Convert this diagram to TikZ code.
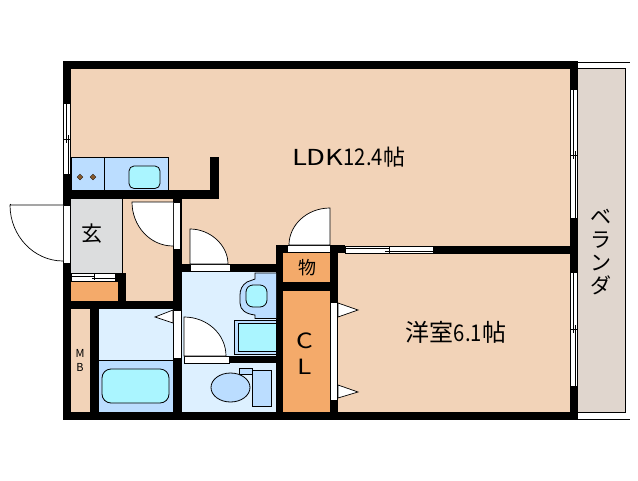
\documentclass[tikz,border=0pt]{standalone}
\usepackage{fontspec}
\setmainfont{Noto Sans CJK JP}
\newfontfamily\widefont[FakeStretch=1.25]{Noto Sans CJK JP}
\newfontfamily\narrowfont[FakeStretch=0.88]{Noto Sans CJK JP}
\definecolor{floorc}{HTML}{F2D3B8}
\definecolor{storec}{HTML}{F4AA6A}
\definecolor{entryc}{HTML}{DCDDDE}
\definecolor{verandac}{HTML}{E0D6CE}
\definecolor{wetc}{HTML}{DDF0FF}
\definecolor{unitc}{HTML}{BBDDFF}
\definecolor{waterc}{HTML}{AAF5FF}
\begin{document}
\begin{tikzpicture}[x=1pt,y=-1pt]
\tikzset{every node/.style={inner sep=0pt,text=black},
    wall/.style={fill=black},
    leaf/.style={fill=white,draw=black,line width=0.7pt},
    strip/.style={fill=white,draw=black,line width=0.7pt},
    fixture/.style={fill=unitc,draw=black,line width=0.8pt},
    basin/.style={fill=waterc,draw=black,line width=0.8pt,rounded corners=5pt},
    thin line/.style={draw=black,line width=0.8pt},
    bigtext/.style={font=\fontsize{22}{24}\selectfont}}
\useasboundingbox (0,0) rectangle (638,480);
% floors
\fill[floorc] (63,61) rectangle (578,420);
\fill[verandac] (578,68) rectangle (625,412);
\fill[entryc] (71,199) rectangle (122,273);
\fill[wetc] (182,272) rectangle (276,412);
\fill[wetc] (99,309) rectangle (173,360);
\fill[unitc] (99,360) rectangle (173,412);
\fill[storec] (283,253) rectangle (330,412);
% veranda outline
\draw[thin line] (578,62) -- (630,62);
\draw[thin line] (578,68) -- (625.5,68) -- (625.5,412) -- (578,412);
\draw[thin line] (574,419.5) -- (630,419.5);
% walls
\fill[wall] (63,61) rectangle (578,69);
\fill[wall] (63,61) rectangle (71,420);
\fill[wall] (570,61) rectangle (578,420);
\fill[wall] (63,412) rectangle (578,420);
\fill[wall] (63,190) rectangle (219,199);
\fill[wall] (210,157) rectangle (219,199);
\fill[wall] (173,190) rectangle (182,412);
\fill[wall] (63,301) rectangle (182,309);
\fill[wall] (115,273) rectangle (126,301);
\fill[wall] (90,309) rectangle (99,412);
\fill[wall] (182,264) rectangle (276,272);
\fill[wall] (276,245) rectangle (283,412);
\fill[wall] (276,245) rectangle (345,253);
\fill[wall] (330,245) rectangle (338,412);
\fill[wall] (283,282) rectangle (330,291);
\fill[wall] (229,356) rectangle (276,363);
\fill[wall] (433,246) rectangle (570,254);
\fill[storec] (71,282) rectangle (118,301);
\fill[storec] (283,253) rectangle (330,282);
\fill[storec] (283,291) rectangle (330,412);
\fill[floorc] (71,309) rectangle (90,412);
% windows
\foreach \wx/\wa/\wb/\wc in {63/103/174/139, 570/89/218/155, 570/272/386/329}{
    \path[strip] (\wx+0.5,\wa) rectangle (\wx+7.5,\wb);
    \draw[line width=0.7pt] (\wx+3,\wa) -- (\wx+3,\wc+4);
    \draw[line width=0.7pt] (\wx+5,\wc-4) -- (\wx+5,\wb);
    \draw[line width=0.7pt] (\wx,\wc) -- (\wx+8,\wc);
}
% sliding door to the room
\path[strip] (345,246) rectangle (433,253);
\draw[line width=0.7pt] (345,248) -- (389,248);
\draw[line width=0.7pt] (385,251) -- (433,251);
\draw[line width=0.7pt] (389,246) -- (389,253);
% cabinet door by the entry
\path[strip] (71,273) rectangle (115,281);
\draw[line width=0.7pt] (71,276) -- (95,276);
\draw[line width=0.7pt] (92,278.500) -- (115,278.500);
\draw[line width=0.7pt] (94,274) -- (94,280);
% entry line
\draw[thin line] (122,199) -- (122,273);
% doors
\path[strip] (63.500,205) rectangle (70.500,263);
\path[strip] (173.500,202) rectangle (180.500,249);
\path[strip] (173.500,310) rectangle (181,358);
\path[strip] (190,264.500) rectangle (230,271.500);
\path[strip] (287,245.500) rectangle (330,252.500);
\path[strip] (184,356.500) rectangle (229,363);
\path[strip] (330.500,302) rectangle (337.500,400);
\path[leaf] (63,205) -- (10,205) .. controls (10,236) and (34,261) .. (63,261);
\draw[line width=0.7pt] (10,203.500) -- (10,205);
\path[leaf] (173,202) -- (132,202) .. controls (132,226) and (150,246) .. (173,246);
\path[leaf] (190,264) -- (190,229) .. controls (210,229) and (228,245) .. (228,264) -- cycle;
\path[leaf] (330,245) -- (330,208) .. controls (307,208) and (289,225) .. (289,245) -- cycle;
\path[leaf] (184,356) -- (184,317) .. controls (207,317) and (226,334) .. (226,356) -- cycle;
\path[leaf] (173,310) -- (155,317) -- (173,323) -- cycle;
\path[leaf] (338,303) -- (358,310) -- (338,317) -- cycle;
\path[leaf] (338,385) -- (358,392) -- (338,398) -- cycle;
% kitchen
\path[fixture] (71,157) rectangle (168,190);
\draw[thin line] (104.500,157) -- (104.500,190);
\path[basin] (129,166) rectangle (160,188.500);
\foreach \dx in {80,93}{
    \path[fill=brown!70!black,draw=black,line width=0.3pt] (\dx,174) -- (\dx+3,177) -- (\dx,180) -- (\dx-3,177) -- cycle;
}
% wash basin and unit
\path[fixture] (276,273) -- (255,273) -- (255,279) -- (247,282) .. controls (242,285) and (240,290) .. (240,295) -- (240,303) .. controls (240,310) and (246,314) .. (255,315) -- (255,318.500) -- (276,318.500);
\path[basin,rounded corners=7pt] (246,285) rectangle (267,307);
\path[fixture] (276,320) -- (234,320) -- (234,354) -- (276,354);
\path[fill=waterc,draw=black,line width=0.8pt] (276,323) -- (238,323) -- (238,351) -- (276,351);
% toilet
\path[fixture] (239,368) rectangle (252,374);
\path[fixture] (230.500,387.500) ellipse (19.500 and 14.500);
\path[fixture] (252,370.500) rectangle (271,406);
% bath
\draw[thin line] (99,360.500) -- (173,360.500);
\path[basin,rounded corners=9pt] (102,369) rectangle (169,403);
% texts
\node[bigtext] (ldk) at (349,157) {{\widefont LDK}{\narrowfont\fontsize{23}{24}\selectfont 12.4}\hspace{1pt}帖};
\node[font=\fontsize{24}{26}\selectfont] (yoshitsu) at (456,332) {洋室{\narrowfont\fontsize{23}{24}\selectfont 6.1}帖};
\node[font=\fontsize{21}{22}\selectfont] (genkan) at (92,234) {玄};
\node[font=\fontsize{18}{19}\selectfont] (mono) at (307,268) {物};
\node[font=\fontsize{21}{22}\selectfont\widefont] (c) at (304.500,341) {C};
\node[font=\fontsize{21}{22}\selectfont\widefont] (l) at (305,367) {L};
\node[font=\fontsize{11}{12}\selectfont] (m) at (80,353) {M};
\node[font=\fontsize{11}{12}\selectfont] (b) at (80,367) {B};
\node[font=\fontsize{21}{23}\selectfont,align=center] (veranda) at (601,252) {ベ\\ラ\\ン\\ダ};
\end{tikzpicture}
\end{document}
